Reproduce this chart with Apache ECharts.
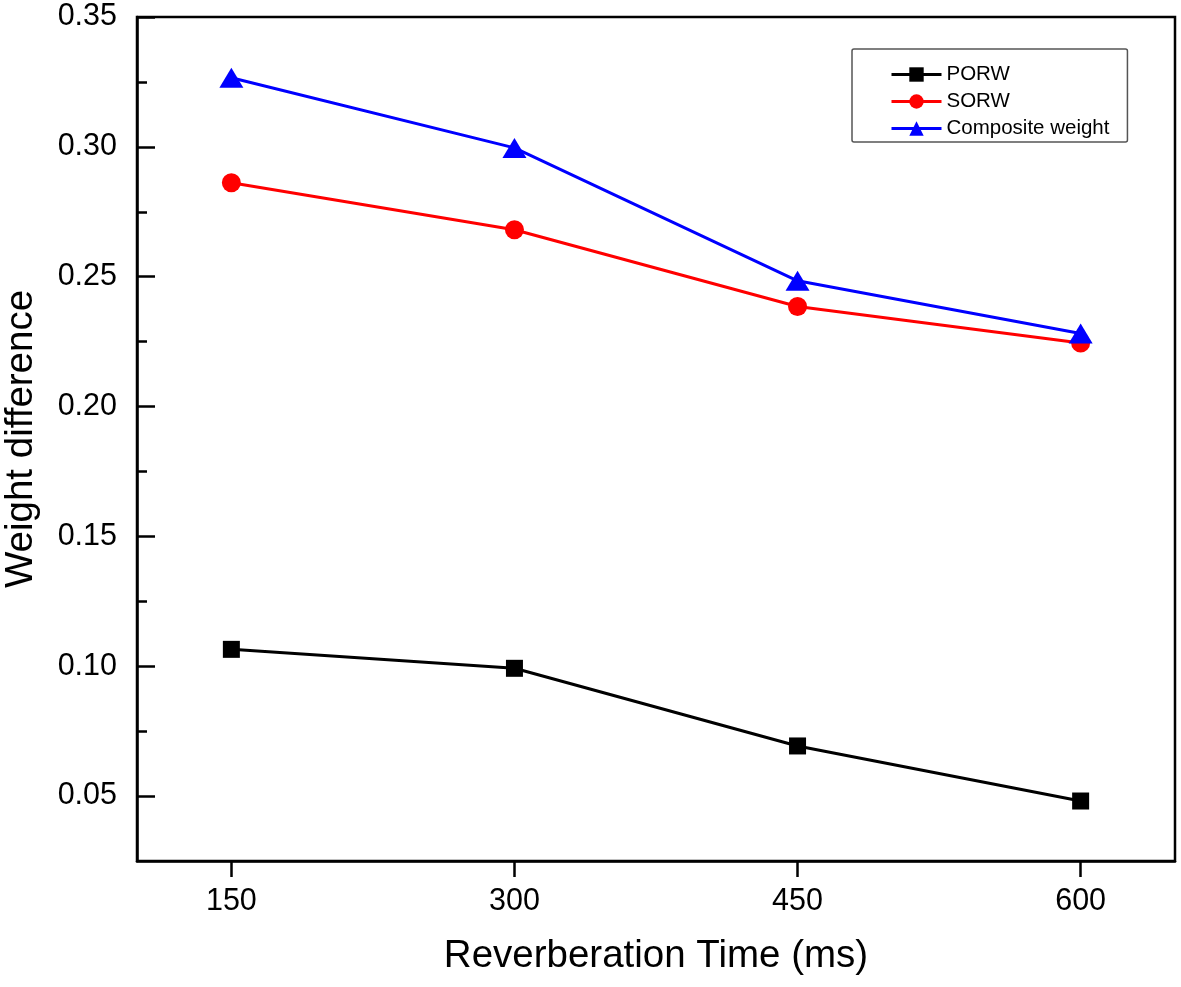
<!DOCTYPE html>
<html>
<head>
<meta charset="utf-8">
<script src="https://cdn.jsdelivr.net/npm/echarts@6/dist/echarts.min.js"></script>
<style>html,body{margin:0;padding:0;background:#fff;}#c{width:1181px;height:987px;}</style>
</head>
<body>
<div id="c"></div>
<script>
const times = [150, 300, 450, 600];
const porw = [0.1065, 0.0992, 0.0693, 0.0481];
const sorw = [0.2862, 0.2681, 0.2385, 0.2245];
const composite = [0.3266, 0.2996, 0.2484, 0.2281];
const xTicks = [150, 300, 450, 600];
const yTicks = [0.05, 0.10, 0.15, 0.20, 0.25, 0.30, 0.35];
const yMinor = [0.075, 0.125, 0.175, 0.225, 0.275, 0.325];

const font = 'Arial, "Liberation Sans", sans-serif';
const chart = echarts.init(document.getElementById('c'), null, {renderer: 'canvas'});
const pair = (xs, ys) => xs.map((x, i) => [x, ys[i]]);

chart.setOption({
  animation: false,
  backgroundColor: '#fff',
  grid: {left: 137, right: 6, top: 17, bottom: 126, containLabel: false, outerBoundsMode: 'none',
         show: true, borderColor: '#000', borderWidth: 2.5, backgroundColor: 'transparent'},
  legend: {
    orient: 'vertical', left: 852, top: 49,
    padding: [15, 18, 3, 38],
    itemWidth: 50, itemHeight: 18, itemGap: 6,
    borderColor: '#555', borderWidth: 1.5, borderRadius: 2,
    lineStyle: {width: 3},
    textStyle: {fontFamily: font, fontSize: 20.5, lineHeight: 18, color: '#000'},
    data: ['PORW', 'SORW', 'Composite weight']
  },
  xAxis: {
    type: 'value', min: 100, max: 650,
    name: 'Reverberation Time (ms)', nameLocation: 'middle', nameGap: 76,
    nameTextStyle: {fontFamily: font, fontSize: 38.5, color: '#000'},
    axisLine: {show: true, onZero: false, lineStyle: {color: '#000', width: 2.5}},
    axisTick: {show: true, inside: false, length: 16, lineStyle: {color: '#000', width: 2.5}, customValues: xTicks},
    axisLabel: {fontFamily: font, fontSize: 30.5, color: '#000', margin: 25, customValues: xTicks},
    splitLine: {show: false}
  },
  yAxis: [{
    type: 'value', min: 0.025, max: 0.35,
    name: 'Weight difference', nameLocation: 'middle', nameGap: 96,
    nameTextStyle: {fontFamily: font, fontSize: 38.5, color: '#000'},
    axisLine: {show: true, onZero: false, lineStyle: {color: '#000', width: 2.5}},
    axisTick: {show: true, inside: true, length: 18, lineStyle: {color: '#000', width: 2.5}, customValues: yTicks},
    axisLabel: {fontFamily: font, fontSize: 30.5, color: '#000', margin: 20, customValues: yTicks, formatter: v => v.toFixed(2)},
    splitLine: {show: false}
  }, {
    type: 'value', min: 0.025, max: 0.35, position: 'left',
    axisLine: {show: false},
    axisTick: {show: true, inside: true, length: 10, lineStyle: {color: '#000', width: 2.5}, customValues: yMinor},
    axisLabel: {show: false},
    splitLine: {show: false}
  }],
  series: [
    {name: 'PORW', type: 'line', data: pair(times, porw), symbol: 'rect', symbolSize: 17,
     lineStyle: {color: '#000', width: 3}, itemStyle: {color: '#000'}},
    {name: 'SORW', type: 'line', data: pair(times, sorw), symbol: 'circle', symbolSize: 19,
     lineStyle: {color: '#ff0000', width: 3}, itemStyle: {color: '#ff0000'}},
    {name: 'Composite weight', type: 'line', data: pair(times, composite), symbol: 'triangle', symbolSize: [24, 20],
     lineStyle: {color: '#0000ff', width: 3}, itemStyle: {color: '#0000ff'}}
  ]
});
</script>
</body>
</html>
